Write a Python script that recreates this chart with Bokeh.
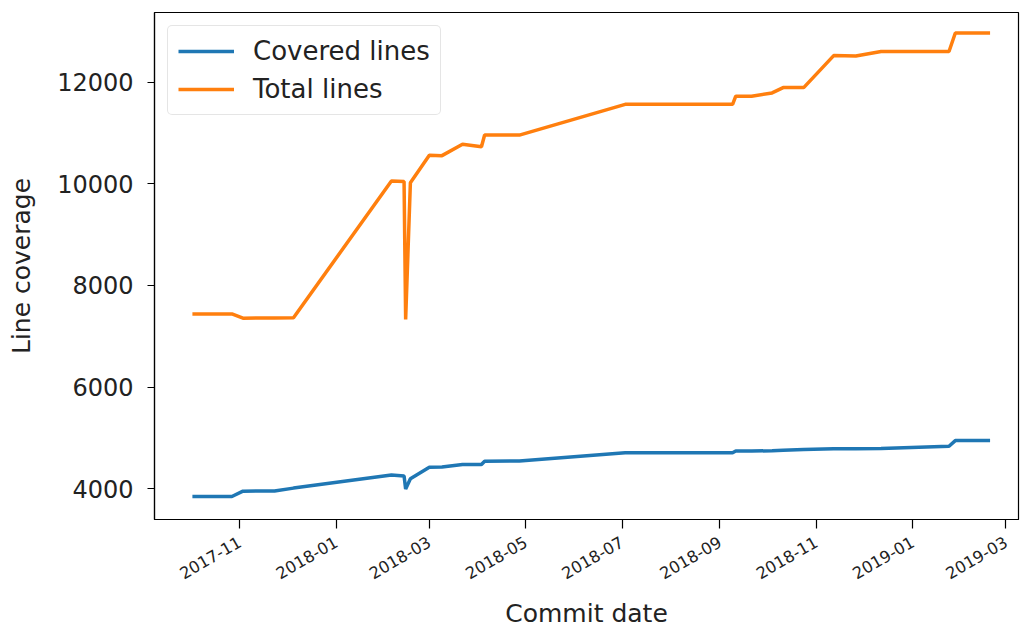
import math
from datetime import datetime
from bokeh.plotting import figure
from bokeh.models import Range1d, FixedTicker, DatetimeTickFormatter, ColumnDataSource
from bokeh.embed import file_html
from bokeh.resources import INLINE

# ---- data ----
commit_dates = [
    "2017-10-02", "2017-10-27", "2017-11-03", "2017-11-23", "2017-12-05",
    "2018-02-05", "2018-02-13", "2018-02-14", "2018-02-17", "2018-03-01",
    "2018-03-09", "2018-03-22", "2018-04-03", "2018-04-05", "2018-04-27",
    "2018-07-03", "2018-09-09", "2018-09-11", "2018-09-21", "2018-10-04",
    "2018-10-11", "2018-10-24", "2018-11-12", "2018-11-26", "2018-12-12",
    "2019-01-24", "2019-01-28", "2019-02-19",
]
covered_lines = [
    3845, 3845, 3950, 3955, 4010,
    4270, 4250, 3990, 4195, 4420,
    4425, 4475, 4475, 4540, 4545,
    4705, 4705, 4740, 4740, 4745,
    4755, 4770, 4785, 4785, 4790,
    4835, 4945, 4945,
]
total_lines = [
    7440, 7440, 7355, 7360, 7365,
    10055, 10045, 7330, 10020, 10565,
    10555, 10780, 10730, 10960, 10960,
    11565, 11565, 11725, 11725, 11790,
    11895, 11895, 12525, 12515, 12605,
    12605, 12970, 12970,
]
x_tick_dates = ["2017-11-01", "2018-01-01", "2018-03-01", "2018-05-01", "2018-07-01",
                "2018-09-01", "2018-11-01", "2019-01-01", "2019-03-01"]
y_ticks = [4000, 6000, 8000, 10000, 12000]
x_limits = ["2017-09-08", "2019-03-09"]
y_limits = [3392, 13373]

to_dt = lambda s: datetime.strptime(s, "%Y-%m-%d")
xs = [to_dt(d) for d in commit_dates]

src = ColumnDataSource(dict(x=xs, covered=covered_lines, total=total_lines))

FONT = "DejaVu Sans"

p = figure(width=1020, height=630, x_axis_type="datetime",
           output_backend="svg", toolbar_location=None,
           x_range=Range1d(to_dt(x_limits[0]), to_dt(x_limits[1])),
           y_range=Range1d(y_limits[0], y_limits[1]),
           min_border_left=154, min_border_top=12, min_border_right=2, min_border_bottom=109)

p.line("x", "covered", source=src, line_color="#1f77b4", line_width=3.5, legend_label="Covered lines")
p.line("x", "total", source=src, line_color="#ff7f0e", line_width=3.5, legend_label="Total lines")

p.xgrid.visible = False
p.ygrid.visible = False
p.outline_line_color = "black"
p.outline_line_width = 1.2
p.background_fill_color = "white"
p.border_fill_color = "white"

epoch = datetime(1970, 1, 1)
tick_ms = [(to_dt(d) - epoch).total_seconds() * 1000 for d in x_tick_dates]
p.xaxis.ticker = FixedTicker(ticks=tick_ms)
fmt = "%Y-%m"
p.xaxis.formatter = DatetimeTickFormatter(months=fmt, days=fmt, years=fmt, hours=fmt,
                                          minutes=fmt, seconds=fmt, milliseconds=fmt,
                                          microseconds=fmt, hourmin=fmt, minsec=fmt)
p.xaxis.major_label_orientation = math.radians(30)
p.yaxis.ticker = FixedTicker(ticks=y_ticks)

for ax in (p.xaxis[0], p.yaxis[0]):
    ax.axis_line_color = "black"
    ax.axis_line_width = 1.2
    ax.major_tick_line_color = "black"
    ax.major_tick_line_width = 1.2
    ax.major_tick_in = 0
    ax.minor_tick_line_color = None
    ax.major_label_text_font = FONT
    ax.major_label_text_color = "#222222"
    ax.axis_label_text_font = FONT
    ax.axis_label_text_font_style = "normal"
    ax.axis_label_text_font_size = "25px"
    ax.axis_label_text_color = "#222222"

p.yaxis.major_tick_out = 7
p.yaxis.major_label_text_font_size = "24px"
p.yaxis.major_label_standoff = 14
p.yaxis.axis_label = "Line coverage"
p.yaxis.axis_label_standoff = 18

p.xaxis.major_tick_out = 9
p.xaxis.major_label_text_font_size = "16.3px"
p.xaxis.major_label_standoff = 12
p.xaxis.axis_label = "Commit date"
p.xaxis.axis_label_standoff = 11

lg = p.legend[0]
lg.location = "top_left"
lg.margin = 13
lg.padding = 10
lg.spacing = 8
lg.glyph_width = 56
lg.glyph_height = 28
lg.label_height = 28
lg.label_standoff = 19
lg.label_text_font = FONT
lg.label_text_font_size = "26px"
lg.label_text_color = "#222222"
lg.border_line_color = "#cccccc"
lg.border_line_width = 1.2
lg.background_fill_alpha = 0.8
if "border_radius" in lg.properties():
    lg.border_radius = 5

open("out.html", "w").write(file_html(p, INLINE))
